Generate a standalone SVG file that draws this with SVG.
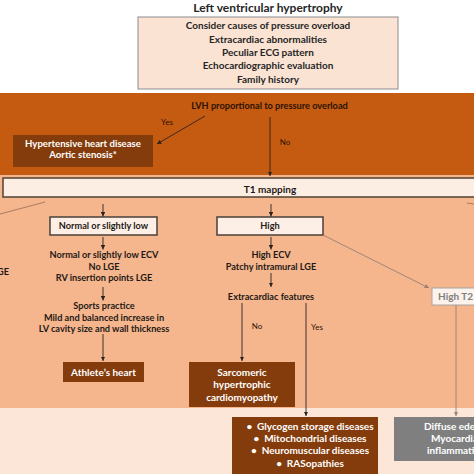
<svg xmlns="http://www.w3.org/2000/svg" width="474" height="474" viewBox="0 0 474 474">
<defs>
<style>
text{font-family:Lato,"Liberation Sans",Arial,sans-serif;font-weight:bold;text-anchor:middle}
.title{font-size:12px;fill:#262626}
.top{font-size:10px;fill:#262626}
.dk{font-size:9.2px;fill:#1f1a17}
.lvh{font-size:9.2px;fill:#2b1203}
.lbl{font-size:8px;font-weight:normal;fill:#2b1203}
.wt{font-size:10px;fill:#ffffff}
.wts{font-size:9.6px;fill:#ffffff}
.gr{font-size:10px;fill:#7f7f7f}
.brown{fill:#843C0C}
.lightbox{fill:#FDEFE5;stroke:#4a4038;stroke-width:1.5}
.conn{fill:none;stroke:#2a2420;stroke-width:0.9}
.soft{fill:none;stroke:#a3745a;stroke-width:0.9}
.grayc{fill:none;stroke:#9a7f72;stroke-width:0.9}
</style>
<marker id="ah" viewBox="0 0 10 10" refX="10" refY="5" markerWidth="4.5" markerHeight="4.5" markerUnits="userSpaceOnUse" orient="auto">
<path d="M0,0 L10,5 L0,10 z" fill="#2a2420"/>
</marker>
<marker id="ahs" viewBox="0 0 10 10" refX="10" refY="5" markerWidth="4.5" markerHeight="4.5" markerUnits="userSpaceOnUse" orient="auto">
<path d="M0,0 L10,5 L0,10 z" fill="#9a7f72"/>
</marker>
</defs>

<!-- background bands -->
<rect x="0" y="0" width="474" height="474" fill="#ffffff"/>
<rect x="0" y="93" width="474" height="82" fill="#C55A11"/>
<rect x="0" y="175" width="474" height="233" fill="#F5B58D"/>
<rect x="0" y="408" width="474" height="66" fill="#FBE6D8"/>

<g id="title">
<text class="title" x="268" y="12">Left ventricular hypertrophy</text>
</g>

<g id="consider">
<rect x="138" y="17" width="260" height="72" fill="#FBE3D3" stroke="#8c8c8c" stroke-width="1"/>
<text class="top" x="268" y="29.2">Consider causes of pressure overload</text>
<text class="top" x="268" y="42.5">Extracardiac abnormalities</text>
<text class="top" x="268" y="55.8">Peculiar ECG pattern</text>
<text class="top" x="268" y="69.2">Echocardiographic evaluation</text>
<text class="top" x="268" y="82.8">Family history</text>
</g>

<g id="lvh">
<text class="lvh" x="269.5" y="109">LVH proportional to pressure overload</text>
</g>

<g id="hypertensive">
<rect class="brown" x="13" y="135" width="140" height="32"/>
<text class="wts" x="83" y="147.4">Hypertensive heart disease</text>
<text class="wts" x="83" y="158.2">Aortic stenosis*</text>
</g>

<g id="t1">
<rect x="3" y="178" width="480" height="19" fill="#FDEEE4" stroke="#5a4a3a" stroke-width="1.6"/>
<text class="dk" style="font-size:10px" x="270" y="193">T1 mapping</text>
</g>

<g id="left-cut">
<text class="dk" style="text-anchor:end" x="9" y="275">GE</text>
</g>

<g id="normal">
<rect class="lightbox" x="50" y="217" width="107" height="18"/>
<text class="dk" x="103.5" y="229.2">Normal or slightly low</text>
</g>

<g id="normal-findings">
<text class="dk" x="104" y="258.2">Normal or slightly low ECV</text>
<text class="dk" x="104" y="269.6">No LGE</text>
<text class="dk" x="104" y="281.2">RV insertion points LGE</text>
</g>

<g id="sports">
<text class="dk" x="104" y="309.2">Sports practice</text>
<text class="dk" x="104" y="320.6">Mild and balanced increase in</text>
<text class="dk" x="104" y="332">LV cavity size and wall thickness</text>
</g>

<g id="athlete">
<rect class="brown" x="63" y="362" width="81" height="20"/>
<text class="wt" x="103.5" y="375.6">Athlete’s heart</text>
</g>

<g id="high">
<rect class="lightbox" x="217" y="217" width="106" height="18"/>
<text class="dk" x="270" y="229.2">High</text>
</g>

<g id="high-findings">
<text class="dk" x="271" y="257.6">High ECV</text>
<text class="dk" x="271" y="269.6">Patchy intramural LGE</text>
</g>

<g id="extracardiac">
<text class="dk" x="271" y="300">Extracardiac features</text>
</g>

<g id="sarcomeric">
<rect class="brown" x="189" y="362" width="106" height="45"/>
<text class="wt" x="242" y="376">Sarcomeric</text>
<text class="wt" x="242" y="388.3">hypertrophic</text>
<text class="wt" x="242" y="400.6">cardiomyopathy</text>
</g>

<g id="storage">
<rect class="brown" x="232" y="417" width="146" height="60"/>
<text class="wt" x="310" y="430.2">•&#160;&#160;Glycogen storage diseases</text>
<text class="wt" x="310" y="442.4">•&#160;&#160;Mitochondrial diseases</text>
<text class="wt" x="310" y="454.2">•&#160;&#160;Neuromuscular diseases</text>
<text class="wt" x="310" y="467.4">•&#160;&#160;RASopathies</text>
</g>

<g id="hight2">
<rect x="432" y="288" width="50" height="17" fill="#FDF3EC" stroke="#a6a6a6" stroke-width="1"/>
<text class="gr" style="text-anchor:start" x="438" y="300.2">High T2</text>
</g>

<g id="diffuse">
<rect x="394" y="417" width="100" height="44" fill="#7F7F7F"/>
<text class="wt" style="text-anchor:start" x="424" y="430.2">Diffuse edema</text>
<text class="wt" style="text-anchor:start" x="431" y="442.4">Myocardial</text>
<text class="wt" style="text-anchor:start" x="427" y="454.2">inflammation</text>
</g>

<g id="connectors">
<line class="conn" x1="205" y1="116" x2="157" y2="144" marker-end="url(#ah)"/>
<text class="lbl" x="167" y="125">Yes</text>
<line class="conn" x1="270" y1="117" x2="270" y2="176" marker-end="url(#ah)"/>
<text class="lbl" x="285" y="145">No</text>

<line class="soft" x1="45" y1="202" x2="0" y2="214"/>
<line class="soft" x1="467" y1="203" x2="474" y2="204"/>

<line class="conn" x1="103" y1="204" x2="103" y2="216.5" marker-end="url(#ah)"/>
<line class="conn" x1="103" y1="237" x2="103" y2="249.5" marker-end="url(#ah)"/>
<line class="conn" x1="103" y1="287" x2="103" y2="300.5" marker-end="url(#ah)"/>
<line class="conn" x1="103" y1="334" x2="103" y2="361" marker-end="url(#ah)"/>

<line class="conn" x1="271" y1="204" x2="271" y2="216.5" marker-end="url(#ah)"/>
<line class="conn" x1="271" y1="237" x2="271" y2="249.5" marker-end="url(#ah)"/>
<line class="conn" x1="271" y1="273" x2="271" y2="287" marker-end="url(#ah)"/>

<line class="conn" x1="242" y1="303" x2="242" y2="361" marker-end="url(#ah)"/>
<text class="lbl" x="257" y="329">No</text>
<line class="conn" x1="306" y1="303" x2="306" y2="416" marker-end="url(#ah)"/>
<text class="lbl" x="317" y="330">Yes</text>

<line class="grayc" x1="323" y1="235" x2="429" y2="288" marker-end="url(#ahs)"/>
<line class="grayc" x1="456" y1="305" x2="456" y2="416" marker-end="url(#ahs)"/>
</g>
</svg>
